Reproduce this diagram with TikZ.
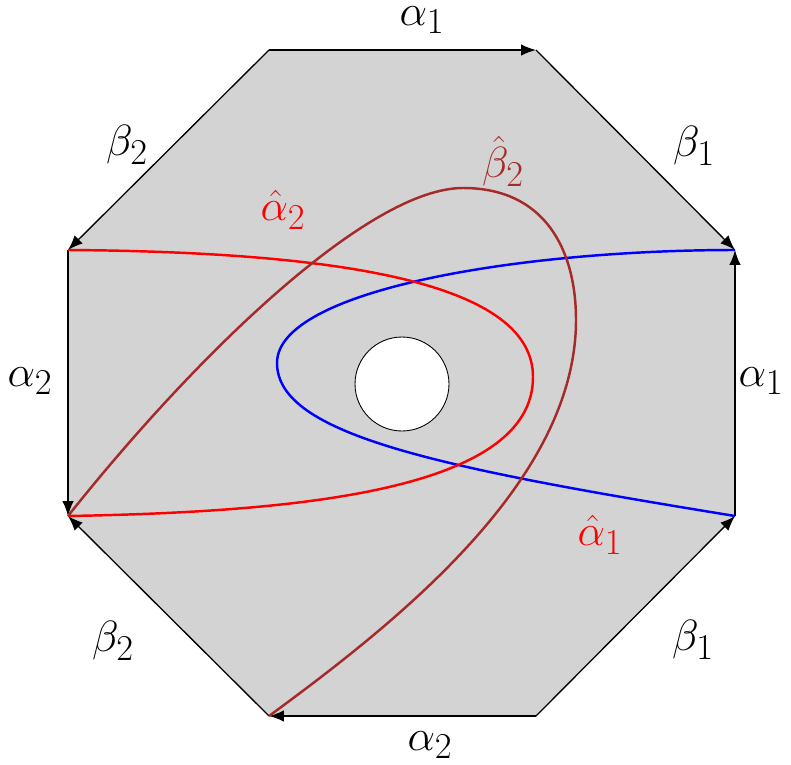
\documentclass[tikz,border=0pt]{standalone}
\usetikzlibrary{arrows.meta}
\definecolor{octfill}{RGB}{211,211,211}
\definecolor{curvebrown}{RGB}{165,42,42}
\begin{document}
\begin{tikzpicture}[x=0.02cm,y=-0.02cm,
  edge/.style={line width=0.75pt,-{Latex[length=8.5pt,width=6.5pt]}},
  curve/.style={line width=1.4pt},
  lab/.style={font=\fontsize{27.5}{32}\selectfont, inner sep=0pt}]
\useasboundingbox (0,0) rectangle (791,764);
\coordinate (A) at (269,50);
\coordinate (B) at (536,50);
\coordinate (C) at (735,250);
\coordinate (D) at (735,516);
\coordinate (E) at (536,716);
\coordinate (F) at (269,716);
\coordinate (G) at (68,516);
\coordinate (H) at (68,250);
\fill[octfill] (A)--(B)--(C)--(D)--(E)--(F)--(G)--(H)--cycle;
\node (hole) [circle, draw, fill=white, line width=0.5pt, minimum size=1.88cm, inner sep=0pt] at (402,384) {};
\draw[edge] (A) -- (B);
\draw[edge] (B) -- (C);
\draw[edge] (D) -- (C);
\draw[edge] (E) -- (D);
\draw[edge] (E) -- (F);
\draw[edge] (F) -- (G);
\draw[edge] (H) -- (G);
\draw[edge] (A) -- (H);
% curves
\draw[curve, blue] (C) .. controls (520,250) and (277,290) .. (277,363)
  .. controls (277,435) and (440,468) .. (D);
\draw[curve, red] (H) .. controls (350,252) and (533,285) .. (533,377)
  .. controls (533,490) and (300,512) .. (G);
\draw[curve, curvebrown] (G) .. controls (200,350) and (370,188) .. (463,188)
  .. controls (545,188) and (576,250) .. (576,320)
  .. controls (576,480) and (400,620) .. (F);
% labels
\node[lab] (la1t) at (422,20) {$\alpha_1$};
\node[lab] (lb1t) at (694,146) {$\beta_1$};
\node[lab] (la1r) at (761,381) {$\alpha_1$};
\node[lab] (lb1b) at (693,640) {$\beta_1$};
\node[lab] (la2b) at (430,745) {$\alpha_2$};
\node[lab] (lb2b) at (113,641) {$\beta_2$};
\node[lab] (la2l) at (30,381) {$\alpha_2$};
\node[lab] (lb2t) at (127,145) {$\beta_2$};
\node[lab, red] (lha2) at (283,210) {$\hat{\alpha}_2$};
\node[lab, curvebrown] (lhb2) at (503,161) {$\hat{\beta}_2$};
\node[lab, red] (lha1) at (600,535) {$\hat{\alpha}_1$};
\end{tikzpicture}
\end{document}
